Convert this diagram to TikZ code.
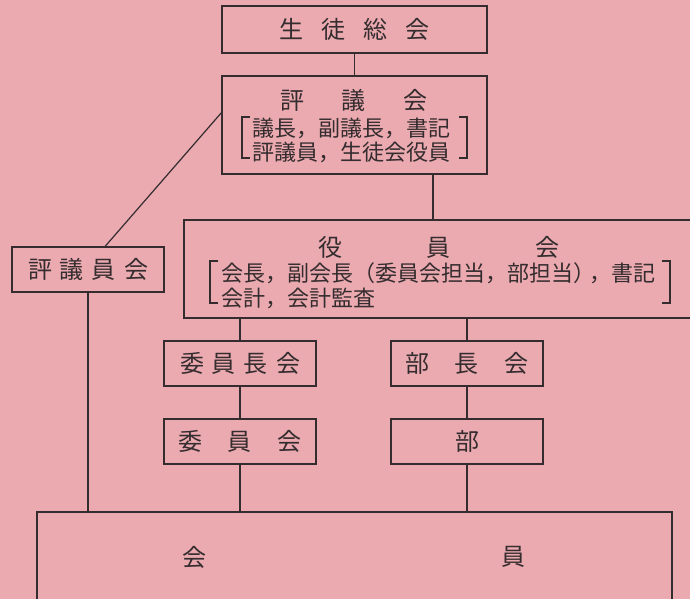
\documentclass[tikz,border=0pt]{standalone}
\usepackage{fontspec}
\newfontfamily\jp{Noto Sans CJK JP}
\definecolor{bg}{RGB}{234,170,176}
\definecolor{ln}{RGB}{52,44,46}
\begin{document}
\begin{tikzpicture}[x=1pt,y=-1pt,
  box/.style={draw=ln,line width=1.2pt,rectangle,inner sep=0pt,text=ln,font=\jp\fontsize{24}{24}\selectfont},
  conn/.style={draw=ln,line width=1.2pt},
  brk/.style={draw=ln,line width=1.1pt},
  txt/.style={text=ln,font=\jp\fontsize{24}{24}\selectfont,inner sep=0pt},
  sub/.style={text=ln,font=\jp\fontsize{22}{22}\selectfont,inner sep=0pt}]
\useasboundingbox (0,0) rectangle (690,599);
\fill[bg] (0,0) rectangle (690,599);
\begin{scope}
\clip (0,0) rectangle (690,599);
% boxes
\node[box,minimum width=265pt,minimum height=47pt] (sokai) at (354.5,29.5) {生\hspace{18pt}徒\hspace{18pt}総\hspace{18pt}会};
\node[box,minimum width=265pt,minimum height=98pt] (hyogikai) at (354.5,125) {};
\node[txt] (hyogikaiT) at (354,100) {評\hspace{38pt}議\hspace{38pt}会};
\node[sub,anchor=west] (hyogikaiL1) at (252,128) {議長，副議長，書記};
\node[sub,anchor=west] (hyogikaiL2) at (252,152) {評議員，生徒会役員};
\node[box,minimum width=152pt,minimum height=45pt] (hyogiinkai) at (88,269.5) {評\hspace{8pt}議\hspace{8pt}員\hspace{8pt}会};
\node[box,minimum width=526pt,minimum height=98pt] (yakuinkai) at (447,269) {};
\node[txt] (yakuinkaiT) at (438.5,247) {役\hspace{84.5pt}員\hspace{84.5pt}会};
\node[sub,anchor=west] (yakuinkaiL1) at (221,273) {会長，副会長（委員会担当，部担当）\hspace{-6pt}，書記};
\node[sub,anchor=west] (yakuinkaiL2) at (221,298) {会計，会計監査};
\node[box,minimum width=152pt,minimum height=45pt] (iinchokai) at (240,363.5) {委\hspace{8pt}員\hspace{8pt}長\hspace{8pt}会};
\node[box,minimum width=152pt,minimum height=45pt] (buchokai) at (467,363.5) {部\hspace{26pt}長\hspace{26pt}会};
\node[box,minimum width=152pt,minimum height=45pt] (iinkai) at (240,441.5) {委\hspace{26pt}員\hspace{26pt}会};
\node[box,minimum width=152pt,minimum height=45pt] (bu) at (467,441.5) {部};
\node[box,minimum width=635pt,minimum height=110pt] (kaiin) at (354.5,567) {};
\node[txt] (kaiinA) at (194,557) {会};
\node[txt] (kaiinB) at (513,557) {員};
% brackets
\draw[brk] (250,117) -- (242,117) -- (242,158) -- (250,158);
\draw[brk] (459,117) -- (467,117) -- (467,158) -- (459,158);
\draw[brk] (218,261) -- (210,261) -- (210,303) -- (218,303);
\draw[brk] (662,261) -- (670,261) -- (670,303) -- (662,303);
% connectors
\coordinate (xa) at (433,0);
\coordinate (dA) at (222,112);
\coordinate (dB) at (105,246.5);
\draw[conn] (sokai.south) -- (hyogikai.north);
\draw[conn] (hyogikai.south -| xa) -- (yakuinkai.north -| xa);
\draw[conn] (dA) -- (dB);
\draw[conn] (hyogiinkai.south) -- (hyogiinkai.south |- kaiin.north);
\draw[conn] (yakuinkai.south -| iinchokai.north) -- (iinchokai.north);
\draw[conn] (iinchokai.south) -- (iinkai.north);
\draw[conn] (iinkai.south) -- (iinkai.south |- kaiin.north);
\draw[conn] (yakuinkai.south -| buchokai.north) -- (buchokai.north);
\draw[conn] (buchokai.south) -- (bu.north);
\draw[conn] (bu.south) -- (bu.south |- kaiin.north);
\end{scope}
\end{tikzpicture}
\end{document}
